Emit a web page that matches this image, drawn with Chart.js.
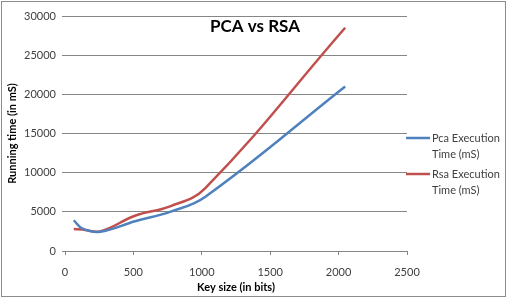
<!DOCTYPE html>
<html>
<head>
<meta charset="utf-8">
<script src="https://cdn.jsdelivr.net/npm/chart.js@4"></script>
<style>
  html, body { margin: 0; padding: 0; background: #fff; }
  #wrap { width: 507px; height: 298px; }
</style>
</head>
<body>
<div id="wrap"><canvas id="myChart" width="507" height="298"></canvas></div>
<script>
const keySizes = [64, 128, 256, 512, 768, 1024, 2048];
const pcaTimes = [3900, 2850, 2450, 3800, 5000, 6900, 21000];
const rsaTimes = [2800, 2750, 2500, 4500, 5700, 8000, 28500];
const seriesNames = ["Pca Execution Time (mS)", "Rsa Execution Time (mS)"];
const seriesColors = ["#4F81BD", "#C0504D"];
const xTicks = [0, 500, 1000, 1500, 2000, 2500];
const yTicks = [0, 5000, 10000, 15000, 20000, 25000, 30000];

const font = "Lato, 'Open Sans', sans-serif";

function toPoints(ys) {
    return keySizes.map((k, i) => ({ x: k, y: ys[i] }));
}

// frame, title and legend the way the original sheet draws them
const decor = {
    id: "decor",
    beforeDraw(chart) {
        let c = chart.ctx;
        c.save();
        c.fillStyle = "#fff";
        c.fillRect(0, 0, chart.width, chart.height);
        c.strokeStyle = "#8c8c8c";
        c.lineWidth = 1;
        c.strokeRect(1.5, 1.5, chart.width - 3, chart.height - 3);
        c.restore();
    },
    afterDraw(chart) {
        let c = chart.ctx;
        c.save();
        c.fillStyle = "#000";
        c.font = "bold 17px " + font;
        c.textAlign = "center";
        c.textBaseline = "middle";
        c.fillText("PCA vs RSA", 255, 27);

        c.font = "11px " + font;
        c.textAlign = "left";
        c.fillStyle = "#404040";
        chart.data.datasets.forEach((ds, i) => {
            let y = 138 + i * 36;
            c.strokeStyle = ds.borderColor;
            c.lineWidth = 2.5;
            c.beginPath();
            c.moveTo(406, y);
            c.lineTo(430, y);
            c.stroke();
            let words = ds.label.split(" ");
            c.fillText(words.slice(0, 2).join(" "), 432, y);
            c.fillText(words.slice(2).join(" "), 432, y + 16);
        });
        c.restore();
    }
};

new Chart("myChart", {
    type: "line",
    data: {
        datasets: [{
            label: seriesNames[0],
            data: toPoints(pcaTimes),
            borderColor: seriesColors[0],
            borderWidth: 2.5,
            pointRadius: 0,
            tension: 0.4
        }, {
            label: seriesNames[1],
            data: toPoints(rsaTimes),
            borderColor: seriesColors[1],
            borderWidth: 2.5,
            pointRadius: 0,
            tension: 0.4
        }]
    },
    options: {
        responsive: false,
        animation: false,
        layout: { padding: { top: 16, right: 100, left: 6, bottom: 0 } },
        plugins: {
            legend: { display: false },
            tooltip: { enabled: false }
        },
        scales: {
            x: {
                type: "linear",
                min: 0,
                max: 2500,
                afterBuildTicks: (s) => { s.ticks = xTicks.map(v => ({ value: v })); },
                afterFit: (s) => { s.height = 47; },
                grid: { display: true, drawOnChartArea: false, color: "#868686", tickLength: 4 },
                border: { color: "#868686" },
                ticks: { color: "#404040", font: { family: font, size: 11 }, padding: 11, maxRotation: 0,
                         callback: (v) => String(v) },
                title: { display: true, text: "Key size (in bits)", color: "#000", font: { family: font, size: 11, weight: "bold" }, padding: { top: 0, bottom: 4 } }
            },
            y: {
                min: 0,
                max: 30000,
                afterBuildTicks: (s) => { s.ticks = yTicks.map(v => ({ value: v })); },
                afterFit: (s) => { s.width = 59; },
                grid: { color: "#868686", tickLength: 3 },
                border: { display: false },
                ticks: { color: "#404040", font: { family: font, size: 11 }, padding: 6,
                         callback: (v) => String(v) },
                title: { display: true, text: "Running time (in mS)", color: "#000", font: { family: font, size: 11, weight: "bold" }, padding: 0 }
            }
        }
    },
    plugins: [decor]
});
</script>
</body>
</html>
